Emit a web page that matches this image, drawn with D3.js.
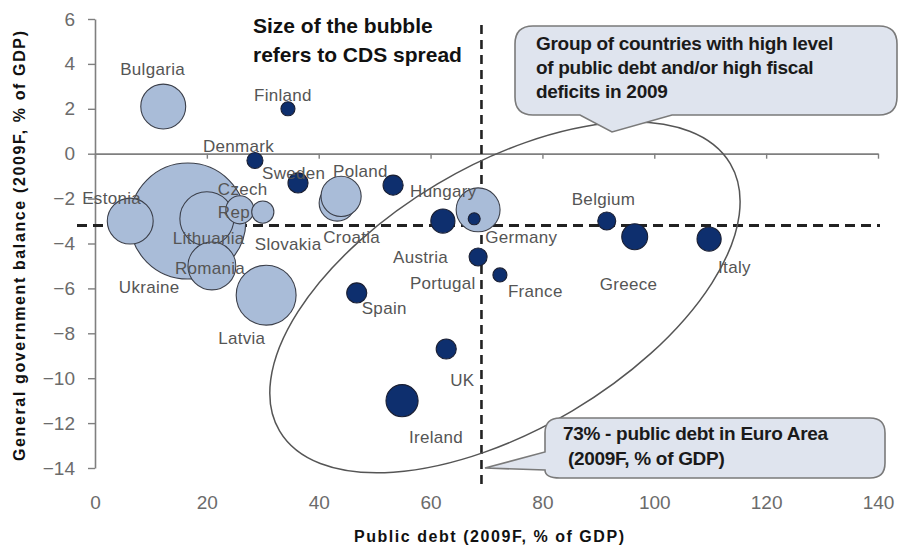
<!DOCTYPE html>
<html>
<head>
<meta charset="utf-8">
<script src="https://cdn.jsdelivr.net/npm/d3@7"></script>
<style>
  body { margin: 0; background: #fff; }
  svg { display: block; font-family: "Liberation Sans", Arial, sans-serif; }
</style>
</head>
<body>
<div id="chart"></div>
<script>
// data
var countries = ["Ukraine", "Latvia", "Lithuania", "Romania", "Estonia", "Bulgaria", "Hungary",
                 "Croatia", "Poland", "Czech Rep", "Slovakia",
                 "Finland", "Denmark", "Sweden", "Netherlands", "Portugal", "Germany", "Austria",
                 "France", "Spain", "UK", "Ireland", "Belgium", "Greece", "Italy"];
var debt =    [16.6, 30.6, 20.0, 20.9, 6.3, 12.2, 68.5, 43.3, 44.0, 25.9, 30.0,
               34.5, 28.6, 36.3, 53.3, 62.2, 67.8, 68.5, 72.4, 46.8, 62.8, 54.9, 91.5, 96.5, 109.8];
var balance = [-3.0, -6.3, -2.9, -5.0, -3.0, 2.1, -2.5, -2.2, -1.9, -2.5, -2.6,
               2.0, -0.3, -1.3, -1.4, -3.0, -2.9, -4.6, -5.4, -6.2, -8.7, -11.0, -3.0, -3.7, -3.8];
var cds =     [3000, 800, 650, 510, 470, 450, 430, 290, 360, 175, 110,
               44, 57, 90, 90, 130, 32, 72, 44, 90, 90, 230, 72, 150, 130];
var region =  ["cee", "cee", "cee", "cee", "cee", "cee", "cee", "cee", "cee", "cee", "cee",
               "we", "we", "we", "we", "we", "we", "we", "we", "we", "we", "we", "we", "we", "we"];

var xTicks = [0, 20, 40, 60, 80, 100, 120, 140];
var yTicks = [6, 4, 2, 0, -2, -4, -6, -8, -10, -12, -14];
var euroDebt = 69.1;      // vertical dashed line
var euroBalance = -3.2;   // horizontal dashed line

// label placement (px offset from bubble centre, text start / baseline)
var labelPos = {
  "Bulgaria": [[-43, -32]], "Finland": [[-34, -8]], "Denmark": [[-52, -8]],
  "Sweden": [[-36, -4]], "Poland": [[-8, -19]], "Hungary": [[-68, -13]],
  "Czech Rep": [[-22, -15, "Czech"], [-22, 8, "Rep"]], "Estonia": [[-48, -17]],
  "Slovakia": [[-8, 38]], "Croatia": [[-14, 40]], "Lithuania": [[-34, 25]],
  "Romania": [[-37, 8]], "Ukraine": [[-69, 72]], "Latvia": [[-48, 49]],
  "Austria": [[-85, 6]], "Portugal": [[-33, 68]], "Germany": [[11, 24]],
  "France": [[8, 22]], "Spain": [[5, 21]], "UK": [[4, 37]], "Ireland": [[7, 42]],
  "Belgium": [[-35, -16]], "Greece": [[-35, 53]], "Italy": [[9, 34]]
};

var W = 903, H = 549;
var svg = d3.select("#chart").append("svg")
  .attr("width", W)
  .attr("height", H);

var x = d3.scaleLinear().domain([0, 140]).range([95, 878]);
var y = d3.scaleLinear().domain([-14, 6]).range([468, 19]);
var r = d3.scaleSqrt().domain([0, 3000]).range([0, 58]);

// y axis
var yAxis = svg.append("g")
  .attr("transform", "translate(" + x(0) + ",0)")
  .call(d3.axisLeft(y).tickValues(yTicks).tickSize(7).tickSizeOuter(0).tickPadding(13));
yAxis.select(".domain").attr("stroke", "#7f7f7f").attr("stroke-width", 1.6);
yAxis.selectAll(".tick line").attr("stroke", "#7f7f7f").attr("stroke-width", 1.4);
yAxis.selectAll("text").attr("font-size", 19).attr("fill", "#6b6b6b")
  .attr("font-family", "Liberation Sans, Arial, sans-serif");

// x axis line sits on zero, labels go to the bottom
var xAxis = svg.append("g")
  .attr("transform", "translate(0," + y(0) + ")")
  .call(d3.axisBottom(x).tickValues(xTicks).tickSize(5).tickSizeOuter(0).tickFormat(""));
xAxis.select(".domain").attr("stroke", "#7f7f7f").attr("stroke-width", 1.8);
xAxis.selectAll(".tick line").attr("stroke", "#7f7f7f").attr("stroke-width", 1.4);

var xLabels = svg.append("g")
  .attr("transform", "translate(0,492)")
  .call(d3.axisBottom(x).tickValues(xTicks).tickSize(0).tickPadding(4));
xLabels.select(".domain").remove();
xLabels.selectAll("text").attr("font-size", 19).attr("fill", "#6b6b6b")
  .attr("font-family", "Liberation Sans, Arial, sans-serif");

// reference lines
svg.append("line")
  .attr("x1", 77).attr("x2", 880)
  .attr("y1", y(euroBalance)).attr("y2", y(euroBalance))
  .attr("stroke", "#222").attr("stroke-width", 3)
  .attr("stroke-dasharray", "10,6");

svg.append("line")
  .attr("x1", x(euroDebt)).attr("x2", x(euroDebt))
  .attr("y1", 25).attr("y2", 486)
  .attr("stroke", "#222").attr("stroke-width", 2.6)
  .attr("stroke-dasharray", "9,6");

// bubbles
var dataset = [];
for (let i = 0; i < countries.length; i++) {
  dataset.push({name: countries[i], debt: debt[i], bal: balance[i], cds: cds[i], region: region[i]});
}

svg.selectAll(".bubble")
  .data(dataset)
  .enter().append("circle")
  .attr("class", "bubble")
  .attr("cx", function(d) { return x(d.debt); })
  .attr("cy", function(d) { return y(d.bal); })
  .attr("r", function(d) { return r(d.cds); })
  .attr("fill", function(d) { return d.region == "cee" ? "#a9bcd8" : "#0e2f6e"; })
  .attr("stroke", function(d) { return d.region == "cee" ? "#3b3f4a" : "#1a1f33"; })
  .attr("stroke-width", 1.1);

// labels
dataset.forEach(function(d) {
  var pos = labelPos[d.name];
  if (!pos) return;
  pos.forEach(function(p) {
    svg.append("text")
      .attr("x", x(d.debt) + p[0])
      .attr("y", y(d.bal) + p[1])
      .attr("font-size", 17)
      .attr("letter-spacing", 0.3)
      .attr("fill", "#555")
      .text(p[2] || d.name);
  });
});

// group ellipse
svg.append("ellipse")
  .attr("cx", 0).attr("cy", 0)
  .attr("rx", 262).attr("ry", 132)
  .attr("transform", "translate(" + x(73.3) + "," + y(-6.4) + ") rotate(-30.7)")
  .attr("fill", "none")
  .attr("stroke", "#555")
  .attr("stroke-width", 1.5);

// callouts
function boxBottomTail(x0, y0, x1, y1, rr, a, b, tx, ty) {
  return "M" + (x0 + rr) + "," + y0 + " H" + (x1 - rr) +
    " Q" + x1 + "," + y0 + " " + x1 + "," + (y0 + rr) + " V" + (y1 - rr) +
    " Q" + x1 + "," + y1 + " " + (x1 - rr) + "," + y1 + " H" + b +
    " L" + tx + "," + ty + " L" + a + "," + y1 + " H" + (x0 + rr) +
    " Q" + x0 + "," + y1 + " " + x0 + "," + (y1 - rr) + " V" + (y0 + rr) +
    " Q" + x0 + "," + y0 + " " + (x0 + rr) + "," + y0 + " Z";
}
function boxLeftTail(x0, y0, x1, y1, rr, a, b, tx, ty) {
  return "M" + (x0 + rr) + "," + y0 + " H" + (x1 - rr) +
    " Q" + x1 + "," + y0 + " " + x1 + "," + (y0 + rr) + " V" + (y1 - rr) +
    " Q" + x1 + "," + y1 + " " + (x1 - rr) + "," + y1 + " H" + (x0 + rr) +
    " Q" + x0 + "," + y1 + " " + x0 + "," + b +
    " L" + tx + "," + ty + " L" + x0 + "," + a + " V" + (y0 + rr) +
    " Q" + x0 + "," + y0 + " " + (x0 + rr) + "," + y0 + " Z";
}

svg.append("path")
  .attr("d", boxBottomTail(515, 26, 897, 115, 18, 580, 672, 612, 132))
  .attr("fill", "#dfe4ee").attr("stroke", "#7a7a7a").attr("stroke-width", 1.6);

var note1 = ["Group of countries with high level", "of public debt and/or high fiscal", "deficits in 2009"];
note1.forEach(function(t, i) {
  svg.append("text")
    .attr("x", 536).attr("y", 50 + i * 24)
    .attr("font-size", 19).attr("font-weight", "bold").attr("fill", "#1a1a1a")
    .attr("letter-spacing", -0.3)
    .text(t);
});

svg.append("path")
  .attr("d", boxLeftTail(545, 418, 885, 478, 15, 452, 470, 485, 468))
  .attr("fill", "#dfe4ee").attr("stroke", "#7a7a7a").attr("stroke-width", 1.6);

svg.append("text")
  .attr("x", 563).attr("y", 440)
  .attr("font-size", 19).attr("font-weight", "bold").attr("fill", "#1a1a1a")
  .attr("letter-spacing", -0.3)
  .text("73% - public debt in Euro Area");
svg.append("text")
  .attr("x", 568).attr("y", 465)
  .attr("font-size", 19).attr("font-weight", "bold").attr("fill", "#1a1a1a")
  .attr("letter-spacing", -0.3)
  .text("(2009F, % of GDP)");

// bubble size note
svg.append("text")
  .attr("x", 253).attr("y", 33)
  .attr("font-size", 21).attr("font-weight", "bold").attr("fill", "#111")
  .text("Size of the bubble");
svg.append("text")
  .attr("x", 253).attr("y", 62)
  .attr("font-size", 21).attr("font-weight", "bold").attr("fill", "#111")
  .text("refers to CDS spread");

// axis titles
svg.append("text")
  .attr("x", 489).attr("y", 542)
  .attr("text-anchor", "middle")
  .attr("font-size", 16).attr("font-weight", "bold").attr("fill", "#111")
  .attr("textLength", 270).attr("lengthAdjust", "spacing")
  .text("Public debt (2009F, % of GDP)");

svg.append("text")
  .attr("transform", "translate(25,246) rotate(-90)")
  .attr("text-anchor", "middle")
  .attr("font-size", 16).attr("font-weight", "bold").attr("fill", "#111")
  .attr("textLength", 430).attr("lengthAdjust", "spacing")
  .text("General government balance (2009F, % of GDP)");
</script>
</body>
</html>
